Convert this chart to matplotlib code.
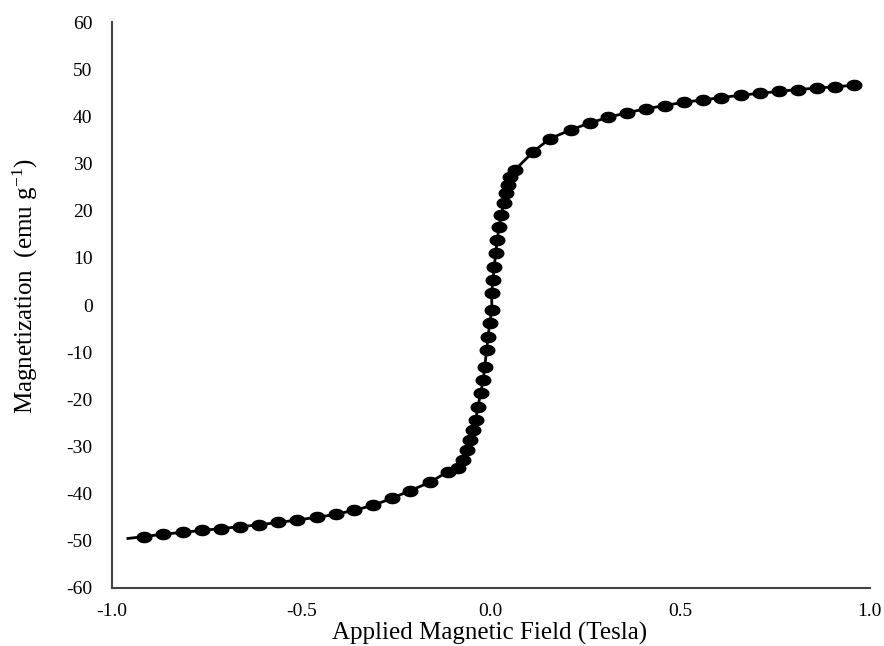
import matplotlib
matplotlib.use("Agg")
import matplotlib.pyplot as plt
import numpy as np
from matplotlib.path import Path

plt.rcParams['font.family'] = 'Liberation Serif'
plt.rcParams['mathtext.default'] = 'regular'
plt.rcParams['axes.unicode_minus'] = False

# measured points (field in Tesla, magnetization in emu/g)
field = [-0.916, -0.865, -0.813, -0.763, -0.712, -0.662, -0.612, -0.562,
         -0.512, -0.459, -0.409, -0.361, -0.311, -0.262, -0.214, -0.161,
         -0.113, -0.086, -0.073, -0.062, -0.054, -0.047, -0.040, -0.034,
         -0.027, -0.020, -0.016, -0.011, -0.007, -0.003, 0.003, 0.002,
         0.006, 0.009, 0.013, 0.017, 0.022, 0.028, 0.034, 0.040, 0.045,
         0.050, 0.063, 0.112, 0.156, 0.213, 0.261, 0.310, 0.360, 0.409,
         0.459, 0.509, 0.560, 0.609, 0.660, 0.710, 0.760, 0.810, 0.860,
         0.910, 0.959]
magnet = [-49.1, -48.6, -48.2, -47.8, -47.4, -47.0, -46.6, -46.1,
          -45.6, -45.0, -44.4, -43.5, -42.5, -41.0, -39.4, -37.6,
          -35.3, -34.6, -32.9, -30.7, -28.6, -26.5, -24.4, -21.6,
          -18.7, -15.9, -13.1, -9.5, -6.7, -3.9, -1.0, 2.5,
          5.3, 8.1, 11.0, 13.8, 16.6, 19.1, 21.6, 23.7, 25.4,
          27.2, 28.6, 32.5, 35.3, 37.2, 38.6, 39.8, 40.8, 41.6,
          42.3, 43.0, 43.5, 44.0, 44.5, 44.9, 45.3, 45.7, 46.0,
          46.3, 46.6]

# start of the drawn curve, left of the first marker
line_start = (-0.958, -49.5)

x_ticks = [-1.0, -0.5, 0.0, 0.5, 1.0]
y_ticks = list(range(-60, 61, 10))

t = np.linspace(0, 2 * np.pi, 40)
ellipse = Path(np.column_stack([np.cos(t), 0.7 * np.sin(t)]), closed=True)

fig = plt.figure(figsize=(8.84, 6.46), dpi=100)
ax = fig.add_axes([0.1267, 0.0898, 0.857, 0.876])

ax.plot([line_start[0]] + field, [line_start[1]] + magnet,
        color='black', lw=2, zorder=2)
ax.plot(field, magnet, ls='none', marker=ellipse, markersize=10.5,
        color='black', zorder=3)

ax.set_xlim(-1.0, 1.0)
ax.set_ylim(-60, 60)
ax.set_xticks(x_ticks)
ax.set_xticklabels([f'{v:.1f}' for v in x_ticks])
ax.set_yticks(y_ticks)
ax.tick_params(length=0, labelsize=14)
ax.tick_params(axis='x', pad=11)
ax.tick_params(axis='y', pad=14)

for side in ['top', 'right']:
    ax.spines[side].set_visible(False)
for side in ['left', 'bottom']:
    ax.spines[side].set_color('#444444')
    ax.spines[side].set_linewidth(1.5)

ax.set_xlabel('Applied Magnetic Field (Tesla)', fontsize=18)
ax.set_ylabel('Magnetization  (emu g$^{-1}$)', fontsize=18)
ax.xaxis.set_label_coords(0.498, -0.060)
ax.yaxis.set_label_coords(-0.095, 0.534)

fig.savefig('out.png', dpi=100)
